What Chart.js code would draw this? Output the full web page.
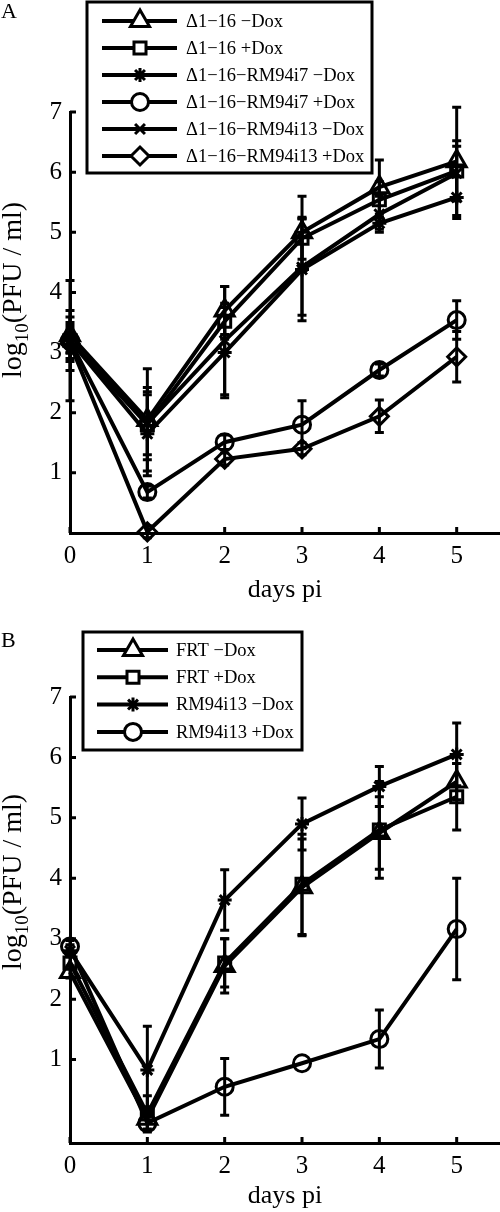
<!DOCTYPE html>
<html>
<head>
<meta charset="utf-8">
<script src="https://cdn.jsdelivr.net/npm/chart.js@4.4.1/dist/chart.umd.min.js"></script>
<style>
    html, body { margin: 0; padding: 0; background: #fff; overflow: hidden; }
    .panel { width: 500px; height: 606px; }
    canvas { display: block; }
</style>
</head>
<body>
<div class="panel"><canvas id="chartA" width="500" height="606"></canvas></div>
<div class="panel"><canvas id="chartB" width="500" height="606"></canvas></div>
<script>
// days post infection and axis ticks
const DAYS = [0, 1, 2, 3, 4, 5];
const X_TICKS = [0, 1, 2, 3, 4, 5];
const Y_TICKS = [1, 2, 3, 4, 5, 6, 7];

// panel A
const A_LABELS = ['Δ1−16 −Dox', 'Δ1−16 +Dox', 'Δ1−16−RM94i7 −Dox', 'Δ1−16−RM94i7 +Dox', 'Δ1−16−RM94i13 −Dox', 'Δ1−16−RM94i13 +Dox'];
const A_D116_NODOX = [3.29, 1.88, 3.70, 5.00, 5.75, 6.18];
const A_D116_DOX = [3.20, 1.80, 3.52, 4.90, 5.54, 6.02];
const A_I7_NODOX = [3.20, 1.65, 3.00, 4.38, 5.15, 5.58];
const A_I7_DOX = [3.20, 0.68, 1.51, 1.80, 2.71, 3.54];
const A_I13_NODOX = [3.20, 1.82, 3.20, 4.42, 5.30, 5.98];
const A_I13_DOX = [3.15, 0.02, 1.23, 1.40, 1.94, 2.93];

const A_D116_NODOX_ERR = [0.30, 0.85, 0.40, 0.60, 0.45, 0.90];
const A_D116_DOX_ERR = [0.30, 0.50, 0.30, 0.35, 0.30, 0.50];
const A_I7_NODOX_ERR = [1.00, 0.70, 0.75, 0.85, 0.10, 0.35];
const A_I7_DOX_ERR = [0.20, 0.10, 0.12, 0.40, 0.10, 0.32];
const A_I13_NODOX_ERR = [0.50, 0.60, 0.90, 0.80, 0.30, 0.45];
const A_I13_DOX_ERR = [0.30, 0.10, 0.10, 0.10, 0.27, 0.42];

// panel B
const B_LABELS = ['FRT −Dox', 'FRT +Dox', 'RM94i13 −Dox', 'RM94i13 +Dox'];
const B_FRT_NODOX = [2.45, 0.02, 2.55, 3.85, 4.75, 5.60];
const B_FRT_DOX = [2.60, 0.10, 2.60, 3.90, 4.80, 5.35];
const B_I13_NODOX = [2.80, 0.83, 3.64, 4.90, 5.52, 6.05];
const B_I13_DOX = [2.87, -0.05, 0.55, 0.94, 1.34, 3.16];

const B_FRT_NODOX_ERR = [0.10, 0.20, 0.45, 0.80, 0.60, 0.30];
const B_FRT_DOX_ERR = [0.10, 0.30, 0.40, 0.83, 0.80, 0.55];
const B_I13_NODOX_ERR = [0.10, 0.72, 0.50, 0.43, 0.33, 0.52];
const B_I13_DOX_ERR = [0.10, 0.10, 0.47, 0.00, 0.48, 0.84];

const SERIF = "'Liberation Serif', 'Times New Roman', serif";

const MARKERS = {
    triangle: { pointStyle: 'triangle', radius: 11 },
    square: { pointStyle: 'rect', radius: 8.5 },
    asterisk: { pointStyle: 'star', radius: 7 },
    circle: { pointStyle: 'circle', radius: 8.5 },
    cross: { pointStyle: 'crossRot', radius: 7 },
    diamond: { pointStyle: 'rectRot', radius: 9 },
};

const PANELS = [
    {
        canvas: 'chartA', letter: 'A', letterY: 18,
        yMin: 0, axisTop: 112, axisBottom: 533,
        labels: A_LABELS,
        values: [A_D116_NODOX, A_D116_DOX, A_I7_NODOX, A_I7_DOX, A_I13_NODOX, A_I13_DOX],
        errors: [A_D116_NODOX_ERR, A_D116_DOX_ERR, A_I7_NODOX_ERR, A_I7_DOX_ERR, A_I13_NODOX_ERR, A_I13_DOX_ERR],
        markers: ['triangle', 'square', 'asterisk', 'circle', 'cross', 'diamond'],
        legend: { x: 87, y: 2, w: 285, h: 171, row0: 21, rowGap: 27, lineX1: 102, lineX2: 177, markX: 140, textX: 186 },
        yTitleX: 21, yTitleY: 290,
    },
    {
        canvas: 'chartB', letter: 'B', letterY: 41,
        yMin: -0.38, axisTop: 91, axisBottom: 537,
        labels: B_LABELS,
        values: [B_FRT_NODOX, B_FRT_DOX, B_I13_NODOX, B_I13_DOX],
        errors: [B_FRT_NODOX_ERR, B_FRT_DOX_ERR, B_I13_NODOX_ERR, B_I13_DOX_ERR],
        markers: ['triangle', 'square', 'asterisk', 'circle'],
        legend: { x: 83, y: 26, w: 219, h: 118, row0: 44, rowGap: 27.3, lineX1: 97, lineX2: 168, markX: 133, textX: 176 },
        yTitleX: 21, yTitleY: 276,
    },
];

// error bars, inward ticks, y title with subscript, panel letter and boxed legend
function makeDecor(panel) {
    return {
        id: 'decor',
        beforeDatasetsDraw(chart) {
            const { ctx, scales: { x, y } } = chart;
            ctx.save();
            ctx.strokeStyle = '#000';
            ctx.lineWidth = 3;
            panel.values.forEach((vals, i) => {
                vals.forEach((v, j) => {
                    const e = panel.errors[i][j];
                    if (!e) return;
                    const px = x.getPixelForValue(DAYS[j]);
                    const y1 = y.getPixelForValue(v - e);
                    const y2 = y.getPixelForValue(v + e);
                    ctx.beginPath();
                    ctx.moveTo(px, y1); ctx.lineTo(px, y2);
                    ctx.moveTo(px - 4.5, y1); ctx.lineTo(px + 4.5, y1);
                    ctx.moveTo(px - 4.5, y2); ctx.lineTo(px + 4.5, y2);
                    ctx.stroke();
                });
            });
            ctx.restore();
        },
        afterDraw(chart) {
            const { ctx, chartArea, scales: { x, y } } = chart;
            ctx.save();
            ctx.strokeStyle = '#000';
            ctx.fillStyle = '#000';
            ctx.lineWidth = 3;

            // inward tick marks
            ctx.beginPath();
            X_TICKS.forEach(t => {
                const px = x.getPixelForValue(t);
                ctx.moveTo(px, chartArea.bottom); ctx.lineTo(px, chartArea.bottom - 6);
            });
            Y_TICKS.forEach(t => {
                const py = y.getPixelForValue(t);
                ctx.moveTo(chartArea.left, py); ctx.lineTo(chartArea.left + 6, py);
            });
            ctx.stroke();

            // y title: log10(PFU / ml)
            ctx.save();
            ctx.translate(panel.yTitleX, panel.yTitleY);
            ctx.rotate(-Math.PI / 2);
            ctx.textBaseline = 'alphabetic';
            ctx.textAlign = 'left';
            const big = `28px ${SERIF}`, small = `19px ${SERIF}`;
            ctx.font = big;
            const w1 = ctx.measureText('log').width;
            const w3 = ctx.measureText('(PFU / ml)').width;
            ctx.font = small;
            const w2 = ctx.measureText('10').width;
            let sx = -(w1 + w2 + w3) / 2;
            ctx.font = big; ctx.fillText('log', sx, 0); sx += w1;
            ctx.font = small; ctx.fillText('10', sx, 7); sx += w2;
            ctx.font = big; ctx.fillText('(PFU / ml)', sx, 0);
            ctx.restore();

            // panel letter
            ctx.font = `22px ${SERIF}`;
            ctx.textAlign = 'left';
            ctx.textBaseline = 'alphabetic';
            ctx.fillText(panel.letter, 1, panel.letterY);

            // legend
            const L = panel.legend;
            ctx.fillStyle = '#fff';
            ctx.fillRect(L.x, L.y, L.w, L.h);
            ctx.strokeRect(L.x, L.y, L.w, L.h);
            ctx.font = `18.5px ${SERIF}`;
            ctx.textBaseline = 'middle';
            panel.labels.forEach((label, i) => {
                const ry = L.row0 + i * L.rowGap;
                ctx.lineWidth = 4;
                ctx.beginPath();
                ctx.moveTo(L.lineX1, ry); ctx.lineTo(L.lineX2, ry);
                ctx.stroke();
                const m = MARKERS[panel.markers[i]];
                ctx.lineWidth = 3;
                ctx.fillStyle = '#fff';
                Chart.helpers.drawPoint(ctx, { pointStyle: m.pointStyle, radius: m.radius, borderWidth: 3, rotation: 0 }, L.markX, ry);
                ctx.fillStyle = '#000';
                ctx.fillText(label, L.textX, ry + 1);
            });
            ctx.restore();
        },
    };
}

function buildChart(panel) {
    const datasets = panel.values.map((vals, i) => {
        const m = MARKERS[panel.markers[i]];
        return {
            label: panel.labels[i],
            data: vals.map((v, j) => ({ x: DAYS[j], y: v })),
            borderColor: '#000',
            borderWidth: 4,
            pointStyle: m.pointStyle,
            pointRadius: m.radius,
            pointBorderWidth: 3,
            pointBorderColor: '#000',
            pointBackgroundColor: 'rgba(0,0,0,0)',
            tension: 0,
            clip: false,
        };
    });

    new Chart(document.getElementById(panel.canvas), {
        type: 'line',
        data: { datasets },
        options: {
            responsive: false,
            animation: false,
            events: [],
            layout: { autoPadding: false, padding: { top: panel.axisTop, left: 0, right: 0, bottom: 0 } },
            plugins: { legend: { display: false }, tooltip: { enabled: false } },
            scales: {
                x: {
                    type: 'linear',
                    min: 0,
                    max: 5.56,
                    afterBuildTicks: s => { s.ticks = X_TICKS.map(v => ({ value: v })); },
                    afterFit: s => {
                        s.height = 606 - panel.axisBottom;
                        s.paddingLeft = 0;
                        s.paddingRight = 0;
                    },
                    ticks: { color: '#000', font: { family: SERIF, size: 25 }, padding: 8, maxRotation: 0 },
                    grid: { display: false, drawTicks: false },
                    border: { color: '#000', width: 3 },
                    title: { display: true, text: 'days pi', color: '#000', font: { family: SERIF, size: 26 }, padding: 0 },
                },
                y: {
                    type: 'linear',
                    min: panel.yMin,
                    max: 7,
                    afterBuildTicks: s => { s.ticks = Y_TICKS.map(v => ({ value: v })); },
                    afterFit: s => {
                        s.width = 70;
                        s.paddingTop = 0;
                        s.paddingBottom = 0;
                    },
                    ticks: { color: '#000', font: { family: SERIF, size: 25 }, padding: 8 },
                    grid: { display: false, drawTicks: false },
                    border: { color: '#000', width: 3 },
                },
            },
        },
        plugins: [makeDecor(panel)],
    });
}

PANELS.forEach(buildChart);
</script>
</body>
</html>
